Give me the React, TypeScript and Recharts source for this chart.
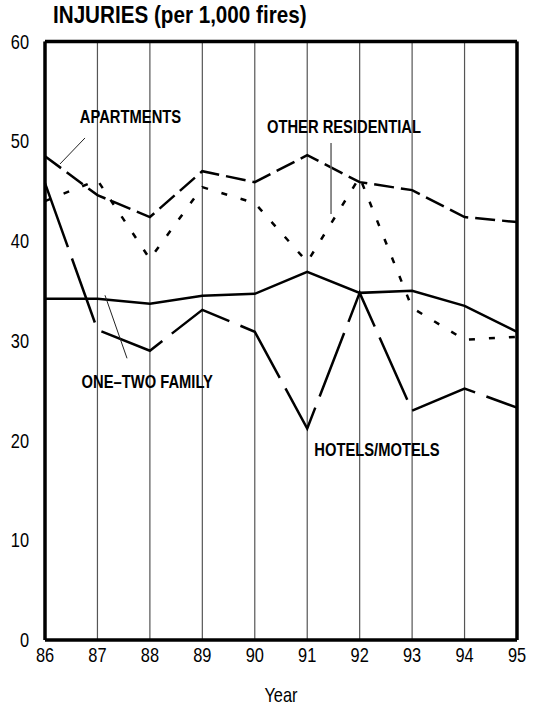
import React from 'react';
import { LineChart, Line, XAxis, YAxis, CartesianGrid, ReferenceLine, ReferenceDot } from 'recharts';

const years = [86, 87, 88, 89, 90, 91, 92, 93, 94, 95];
const apartments = [48.5, 44.6, 42.4, 47.0, 45.9, 48.6, 45.9, 45.1, 42.4, 41.9];
const otherResidential = [44.0, 46.1, 38.2, 45.4, 43.8, 37.9, 46.4, 33.3, 30.1, 30.4];
const oneTwoFamily = [34.2, 34.2, 33.7, 34.5, 34.7, 36.9, 34.8, 35.0, 33.5, 30.9];
const hotelsMotels = [45.8, 31.1, 29.0, 33.1, 30.9, 21.2, 34.8, 23.0, 25.2, 23.3];
const yTicks = [0, 10, 20, 30, 40, 50, 60];

const title = 'INJURIES (per 1,000 fires)';
const xAxisTitle = 'Year';

const annotationText = ['APARTMENTS', 'OTHER RESIDENTIAL', 'ONE–TWO FAMILY', 'HOTELS/MOTELS'];
const annotationX = [87.63, 91.7, 87.95, 92.33];
const annotationY = [51.83, 50.83, 25.26, 18.45];

const leaderFrom = [
  { x: 86.763, y: 50.33 },
  { x: 91.454, y: 49.82 },
  { x: 87.144, y: 34.56 },
];
const leaderTo = [
  { x: 86.286, y: 47.72 },
  { x: 91.454, y: 42.71 },
  { x: 87.564, y: 28.24 },
];

const data = years.map((year, i) => ({
  year,
  apartments: apartments[i],
  otherResidential: otherResidential[i],
  oneTwoFamily: oneTwoFamily[i],
  hotelsMotels: hotelsMotels[i],
}));

const FONT = "'Liberation Sans', Arial, Helvetica, sans-serif";
const SQUEEZE = 0.82;

function NarrowText({ x, y, anchor, dy, size, bold, children }: any) {
  return (
    <text
      transform={`translate(${x},${y}) scale(${SQUEEZE},1)`}
      x={0}
      y={0}
      dy={dy}
      textAnchor={anchor}
      fontFamily={FONT}
      fontWeight={bold ? 'bold' : 'normal'}
      fontSize={size}
      fill="#000"
    >
      {children}
    </text>
  );
}

const XTick = (p: any) => (
  <NarrowText x={p.x} y={p.y} anchor="middle" dy="0.71em" size={20}>
    {p.payload.value}
  </NarrowText>
);

const YTick = (p: any) => (
  <NarrowText x={p.x} y={p.y} anchor="end" dy="0.355em" size={20}>
    {p.payload.value}
  </NarrowText>
);

const YearLabel = (p: any) => {
  const vb = p.viewBox || {};
  return (
    <NarrowText x={vb.x + vb.width / 2} y={vb.y + vb.height} anchor="middle" dy={0} size={20}>
      {xAxisTitle}
    </NarrowText>
  );
};

export default function App() {
  return (
    <div style={{ position: 'absolute', left: 0, top: 0, width: 553, height: 710, background: '#fff' }}>
      <div
        style={{
          position: 'absolute',
          left: 53,
          top: 1,
          fontFamily: FONT,
          fontWeight: 'bold',
          fontSize: 24,
          lineHeight: '28px',
          color: '#000',
          whiteSpace: 'nowrap',
          transform: 'scaleX(0.86)',
          transformOrigin: '0 0',
        }}
      >
        {title}
      </div>
      <LineChart
        width={553}
        height={710}
        data={data}
        margin={{ top: 41.5, right: 36, bottom: 8, left: 0 }}
      >
        <CartesianGrid horizontal={false} vertical stroke="#555" strokeWidth={1.2} />
        <XAxis
          dataKey="year"
          type="number"
          domain={[86, 95]}
          ticks={years}
          interval={0}
          tickSize={0}
          tickMargin={8}
          axisLine={false}
          height={62}
          tick={XTick}
          label={{ value: xAxisTitle, position: 'insideBottom', content: YearLabel }}
        />
        <YAxis
          type="number"
          domain={[0, 60]}
          ticks={yTicks}
          interval={0}
          tickSize={0}
          tickMargin={16}
          axisLine={false}
          width={45}
          tick={YTick}
        />
        <Line
          dataKey="otherResidential"
          stroke="#000"
          strokeWidth={2.5}
          strokeDasharray="6 14"
          dot={false}
          isAnimationActive={false}
        />
        <Line
          dataKey="apartments"
          stroke="#000"
          strokeWidth={2.5}
          strokeDasharray="20 7"
          dot={false}
          isAnimationActive={false}
        />
        <Line
          dataKey="oneTwoFamily"
          stroke="#000"
          strokeWidth={2.5}
          dot={false}
          isAnimationActive={false}
        />
        <Line
          dataKey="hotelsMotels"
          stroke="#000"
          strokeWidth={2.5}
          strokeDasharray="68 12"
          dot={false}
          isAnimationActive={false}
        />
        {leaderFrom.map((p, i) => (
          <ReferenceLine
            key={'lead' + i}
            segment={[p, leaderTo[i]]}
            stroke={i === 1 ? '#666' : '#222'}
            strokeWidth={i === 1 ? 1.5 : 1}
            ifOverflow="visible"
          />
        ))}
        {annotationText.map((t, i) => (
          <ReferenceDot
            key={'ann' + i}
            x={annotationX[i]}
            y={annotationY[i]}
            r={0}
            ifOverflow="visible"
            shape={(p: any) => (
              <NarrowText x={p.cx} y={p.cy} anchor="middle" dy={0} size={18} bold>
                {t}
              </NarrowText>
            )}
          />
        ))}
        <ReferenceLine x={86} stroke="#000" strokeWidth={3.5} ifOverflow="visible" />
        <ReferenceLine x={95} stroke="#000" strokeWidth={3.5} ifOverflow="visible" />
        <ReferenceLine y={0} stroke="#000" strokeWidth={3.5} ifOverflow="visible" />
        <ReferenceLine y={60} stroke="#000" strokeWidth={3.5} ifOverflow="visible" />
      </LineChart>
    </div>
  );
}
